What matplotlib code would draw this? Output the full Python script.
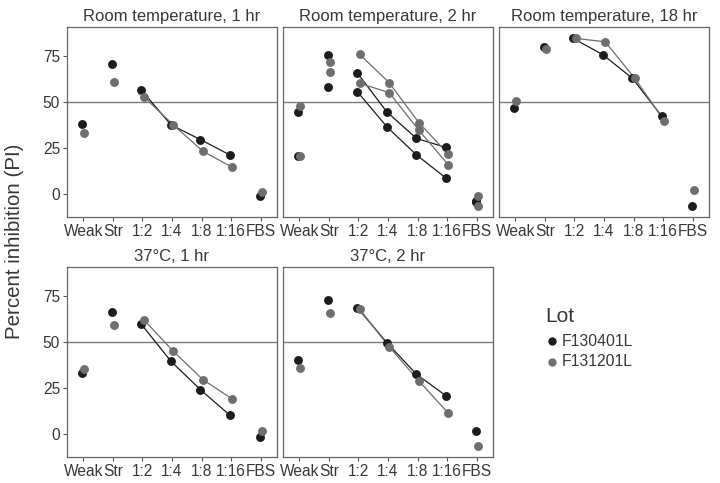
import numpy as np
import matplotlib
matplotlib.use('Agg')
import matplotlib.pyplot as plt
import matplotlib.transforms as mtransforms

plt.rcParams['font.family'] = ['Liberation Sans', 'DejaVu Sans']

# categories / lots
cats = ['Weak', 'Str', '1:2', '1:4', '1:8', '1:16', 'FBS']
lots = ['F130401L', 'F131201L']
lot_colors = ['#1c1c1c', '#6e6e6e']

# values (percent inhibition)
rt1_a = [37.8, 70.3, 56.4, 37.5, 29.5, 21.1, -1.1]
rt1_b = [33.0, 60.5, 52.8, 37.5, 23.2, 14.4, 1.3]
rt2_a1 = [44.3, 75.3, 65.7, 44.5, 30.1, 25.2, -4.5]
rt2_a2 = [20.5, 58.0, 55.5, 36.4, 21.2, 8.6, -4.0]
rt2_b1 = [47.7, 71.7, 75.7, 60.3, 38.7, 21.6, -1.3]
rt2_b2 = [20.5, 66.1, 60.0, 54.9, 34.6, 15.8, -6.3]
rt18_a = [46.8, 79.8, 84.3, 75.5, 62.7, 42.0, -6.3]
rt18_b = [50.4, 78.4, 84.3, 82.5, 62.7, 39.6, 2.2]
c1_a = [33.2, 66.3, 59.5, 39.5, 24.0, 10.1, -1.8]
c1_b = [35.0, 59.1, 62.0, 44.9, 29.5, 18.9, 1.8]
c2_a = [40.0, 72.4, 68.5, 49.5, 32.4, 20.7, 1.8]
c2_b = [35.9, 65.6, 67.6, 47.2, 28.8, 11.2, -6.5]

titles = ['Room temperature, 1 hr', 'Room temperature, 2 hr', 'Room temperature, 18 hr',
          '37\u00b0C, 1 hr', '37\u00b0C, 2 hr']
panels = [
    [(0, rt1_a), (1, rt1_b)],
    [(0, rt2_a1), (0, rt2_a2), (1, rt2_b1), (1, rt2_b2)],
    [(0, rt18_a), (1, rt18_b)],
    [(0, c1_a), (1, c1_b)],
    [(0, c2_a), (1, c2_b)],
]

txt = '#383838'
W, H = 720, 483
fig = plt.figure(figsize=(W / 100, H / 100), dpi=100)

def px_axes(x0, y0, w, h):
    return fig.add_axes([x0 / W, (H - y0 - h) / H, w / W, h / H])

lefts = [67, 283, 499]
tops = [27, 267]
x = np.arange(1, len(cats) + 1)
dodge = [-0.04, 0.04]
weak_shift = mtransforms.ScaledTranslation(-3 / 100, 0, fig.dpi_scale_trans)

for i, (title, series) in enumerate(zip(titles, panels)):
    row, col = divmod(i, 3)
    ax = px_axes(lefts[col], tops[row], 210, 190)
    ax.axhline(50, color='#7a7a7a', lw=1.0, zorder=1)
    for lot, vals in series:
        xs = x + dodge[lot]
        vals = np.array(vals)
        ax.plot(xs[2:6], vals[2:6], color=lot_colors[lot], lw=0.9, zorder=2)
        ax.plot(xs, vals, 'o', color=lot_colors[lot], ms=6.4, mec='none', zorder=3)
    ax.set_xlim(0.45, 7.55)
    ax.set_ylim(-12.5, 90.5)
    ax.set_xticks(x)
    ax.set_xticklabels(cats, fontsize=11.2, color=txt)
    lab = ax.get_xticklabels()[0]
    lab.set_transform(lab.get_transform() + weak_shift)
    ax.set_yticks([0, 25, 50, 75])
    if col == 0:
        ax.set_yticklabels(['0', '25', '50', '75'], fontsize=11.2, color=txt)
    else:
        ax.set_yticklabels([])
    ax.tick_params(length=3, width=0.8, color='#555555', pad=2)
    if col != 0:
        ax.tick_params(axis='y', length=0)
    for s in ax.spines.values():
        s.set_color('#666666')
        s.set_linewidth(0.9)
    ax.set_title(title, fontsize=12, color=txt, pad=4)

fig.text(15 / W, 1 - 241 / H, 'Percent inhibition (PI)', rotation=90,
         ha='center', va='center', fontsize=14.8, color=txt)

# legend
fig.text(545 / W, 1 - 316 / H, 'Lot', fontsize=15, color=txt, va='center')
for k, lot in enumerate(lots):
    yk = 1 - (341 + k * 21) / H
    fig.lines.append(plt.Line2D([552 / W], [yk], marker='o', ms=6, mec='none',
                                color=lot_colors[k], transform=fig.transFigure))
    fig.text(562 / W, yk, lot, fontsize=11.3, color=txt, va='center')

fig.savefig('out.png', dpi=100)
